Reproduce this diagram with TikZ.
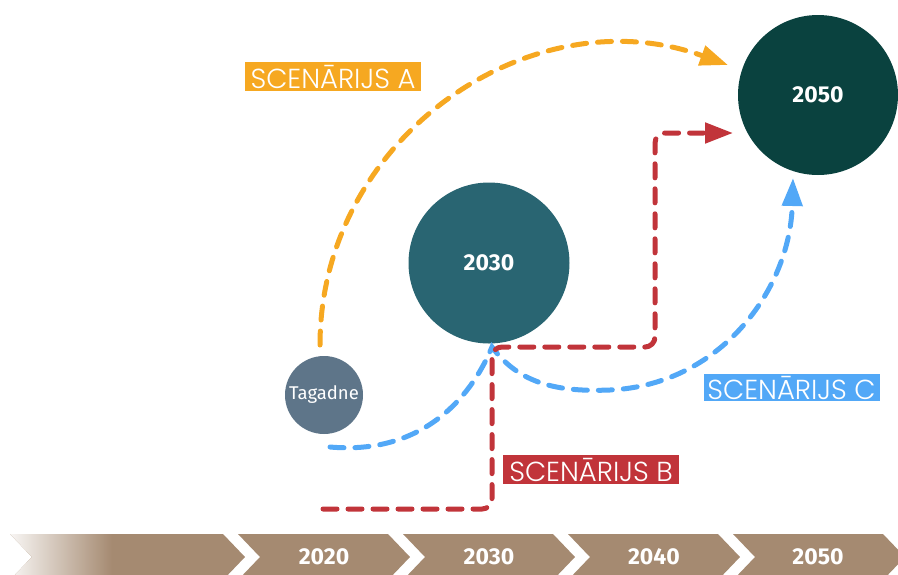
\documentclass[tikz,border=0pt]{standalone}
\usepackage{fontspec}
\setmainfont{Fira Sans}
\newfontfamily\labfont{Poppins Light}
\usetikzlibrary{arrows.meta}
\definecolor{cbrown}{HTML}{A58A71}
\definecolor{corange}{HTML}{F6A821}
\definecolor{cred}{HTML}{C1343A}
\definecolor{cblue}{HTML}{52A8F7}
\definecolor{cdark}{HTML}{0A423F}
\definecolor{cmid}{HTML}{296572}
\definecolor{cgrey}{HTML}{5E7589}
\tikzset{
  yearcircle/.style={circle, inner sep=0pt, text=white, font=\bfseries\fontsize{23}{25}\selectfont},
  yeartext/.style={text=white, font=\bfseries\fontsize{23}{25}\selectfont},
  scenlabel/.style={rectangle, inner sep=0pt, minimum width=176pt, minimum height=29pt, text=white, font=\labfont\fontsize{27.5}{29}\selectfont},
  scenline/.style={line width=5pt, line cap=round, dash pattern=on 14pt off 11pt, -{Triangle[length=28pt,width=20pt]}}
}
\newcommand{\chevronpath}[2]{(#1,534) -- (#2,534) -- ({#2+22},557) -- (#2,580) -- (#1,580) -- ({#1+22},557) -- cycle}
\begin{document}
\begin{tikzpicture}[x=1pt,y=-1pt]
\useasboundingbox (0,0) rectangle (898,574);
\clip (0,0) rectangle (898,574);
% timeline
\fill[cbrown] \chevronpath{10}{223};
\begin{scope}
  \clip \chevronpath{10}{223};
  \shade[left color=white!92!cbrown, right color=cbrown] (10,530) rectangle (112,584);
\end{scope}
\fill[cbrown] \chevronpath{238}{388};
\fill[cbrown] \chevronpath{403}{553};
\fill[cbrown] \chevronpath{568}{718};
\fill[cbrown] \chevronpath{733}{883};
\node[yeartext] (t2020) at (324,557) {2020};
\node[yeartext] (t2030) at (489,557) {2030};
\node[yeartext] (t2040) at (654,557) {2040};
\node[yeartext] (t2050) at (818,557) {2050};
% circles
\node[yearcircle, fill=cdark, minimum size=160pt] (n2050) at (818,95) {2050};
\node[yearcircle, fill=cmid, minimum size=161pt] (n2030) at (489,263) {2030};
\node[circle, inner sep=0pt, fill=cgrey, minimum size=78pt, text=white, font=\fontsize{18.5}{20}\selectfont] (tag) at (324,395) {Tagadne};
% labels
\node[scenlabel, fill=corange] (labA) at (333,76.5) {SCENĀRIJS A};
\node[scenlabel, fill=cred] (labB) at (591,469.5) {SCENĀRIJS B};
\node[scenlabel, fill=cblue, minimum height=27pt] (labC) at (791.5,387.5) {SCENĀRIJS C};
% coordinates
\coordinate (aS) at (320,345);
\coordinate (aE) at (728,65);
\coordinate (bS) at (323,509);
\coordinate (bE) at (733,133);
\coordinate (cS) at (330,447);
\coordinate (cM) at (492,347);
\coordinate (cE) at (793,178);
% scenario A
\draw[scenline, corange] (aS) .. controls (320,137) and (532,-6) .. (aE);
% scenario C
\draw[scenline, cblue] (cS) .. controls (420,455) and (470,400) .. (cM)
   .. controls (520,385) and (560,392) .. (610,390)
   .. controls (720,385) and (790,290) .. (cE);
% scenario B
\draw[scenline, cred, rounded corners=10pt] (bS) -- (492,509) -- (492,347) -- (655,347) -- (655,133) -- (bE);
\end{tikzpicture}
\end{document}
